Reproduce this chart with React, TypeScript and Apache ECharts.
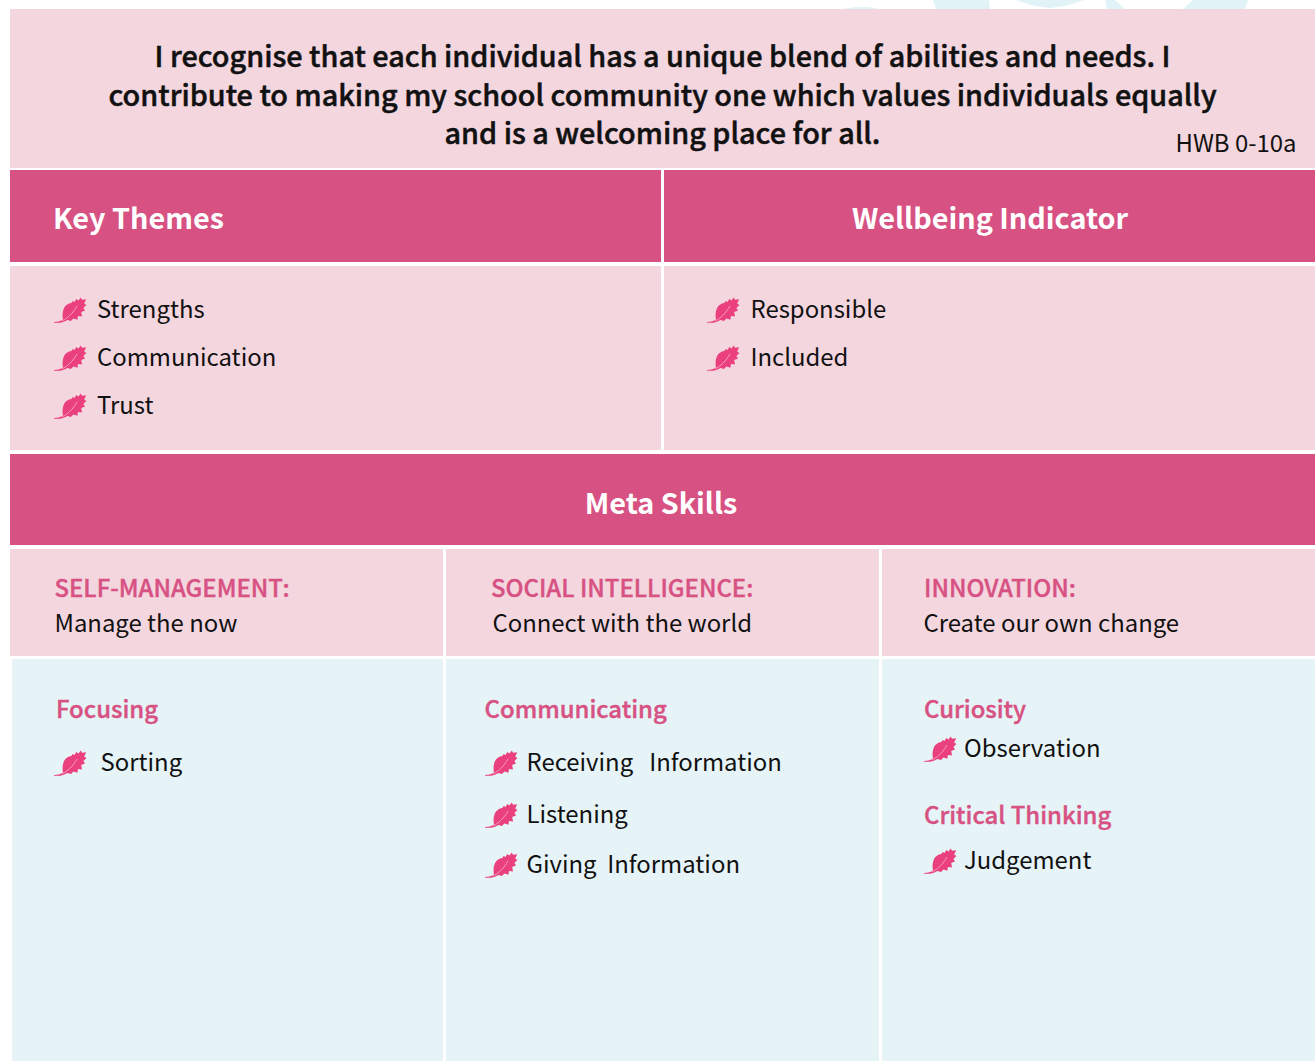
import React, { useEffect, useRef } from "react";
import * as echarts from "echarts";

const FONT = '"Noto Sans CJK SC", "Noto Sans CJK JP", "Noto Sans", sans-serif';
const PINK = "#d75283";
const PALE = "#f4d6df";
const BLUE = "#e6f4f8";
const BLACK = "#111111";

const titleLines = [
  "I recognise that each individual has a unique blend of abilities and needs. I",
  "contribute to making my school community one which values individuals equally",
  "and is a welcoming place for all.",
];
const outcomeCode = "HWB 0-10a";
const headers = ["Key Themes", "Wellbeing Indicator", "Meta Skills"];
const keyThemes = ["Strengths", "Communication", "Trust"];
const indicators = ["Responsible", "Included"];
const metaHeads = ["SELF-MANAGEMENT:", "SOCIAL INTELLIGENCE:", "INNOVATION:"];
const metaSubs = ["Manage the now", "Connect with the world", "Create our own change"];
const focusHead = "Focusing";
const focusItems = ["Sorting"];
const commHead = "Communicating";
const commItems = ["Receiving   Information", "Listening", "Giving  Information"];
const curiosityHead = "Curiosity";
const curiosityItems = ["Observation"];
const criticalHead = "Critical Thinking";
const criticalItems = ["Judgement"];

const LEAF =
  "M0 25 C3 25 6 24.4 9 22.6 C8.2 19 8.4 15 9.8 11.6 C11.4 8.2 14 6.4 17.4 6 L18.6 4 L20.6 5 L22.2 2 L24.4 3.6 L26.8 0.6 L28 2.8 L32.2 2.2 L30.2 6.4 L32.4 8 L29.4 11 L31 13.6 L27.2 15 L28 19.4 L24 19 L23.4 22.8 L19.4 21.4 L17 24 L13.4 23 C11 24.8 7 26.2 0 25.8 Z";

function rect(x: number, y: number, w: number, h: number, fill: string) {
  return { type: "rect", shape: { x, y, width: w, height: h }, style: { fill }, silent: true };
}

function text(
  t: string,
  x: number,
  y: number,
  size: number,
  fill: string,
  weight: number | string = 400,
  align = "left",
  thicken = 0,
) {
  return {
    type: "text",
    x,
    y,
    silent: true,
    style: {
      text: t,
      fill,
      fontFamily: FONT,
      fontSize: size,
      fontWeight: weight,
      align,
      verticalAlign: "middle",
      ...(thicken ? { stroke: fill, lineWidth: thicken } : {}),
    },
  };
}

function leaf(x: number, y: number) {
  return {
    type: "group",
    x,
    y,
    silent: true,
    children: [
      { type: "kauraLeaf", x: 0, y: 0, style: { fill: "#ea417e" } },
      {
        type: "bezierCurve",
        shape: { x1: 8, y1: 24, cpx1: 14, cpy1: 21, cpx2: 19, cpy2: 16, x2: 23, y2: 9 },
        style: { stroke: "#f7a4c2", lineWidth: 0.9, fill: "none" },
      },
    ],
  };
}

function itemList(items: string[], leafX: number, textX: number, ys: number[], size = 23.9) {
  const out: any[] = [];
  items.forEach((t, i) => {
    out.push(leaf(leafX, ys[i] - 13));
    out.push(text(t, textX, ys[i] - 3, size, BLACK));
  });
  return out;
}

export default function App() {
  const ref = useRef<HTMLDivElement>(null);
  useEffect(() => {
    document.body.style.margin = "0";
    echarts.graphic.registerShape("kauraLeaf", echarts.graphic.extendPath(LEAF, {}) as any);
    const chart = echarts.init(ref.current!, undefined, { renderer: "svg" });
    const wm = "#e2f3f7";
    const elements: any[] = [
      { type: "polygon", shape: { points: [[843, 9], [855, 7], [868, 7], [880, 9]] }, style: { fill: wm } },
      { type: "polygon", shape: { points: [[933, 0], [989, 0], [990, 9], [936, 9]] }, style: { fill: wm } },
      { type: "polygon", shape: { points: [[1015, 0], [1084, 0], [1065, 6], [1050, 8], [1035, 6]] }, style: { fill: wm } },
      { type: "polygon", shape: { points: [[1105, 0], [1115, 0], [1125, 9], [1107, 9]] }, style: { fill: wm } },
      { type: "polygon", shape: { points: [[1193, 0], [1248, 0], [1245, 9], [1183, 9]] }, style: { fill: wm } },

      rect(10, 9, 1305, 159, PALE),
      rect(10, 170, 651, 92, PINK),
      rect(664, 170, 651, 92, PINK),
      rect(10, 266, 651, 184, PALE),
      rect(664, 266, 651, 184, PALE),
      rect(10, 454, 1305, 91, PINK),
      rect(10, 549, 433, 107, PALE),
      rect(446, 549, 433, 107, PALE),
      rect(882, 549, 433, 107, PALE),
      rect(12, 659, 431, 402, BLUE),
      rect(446, 659, 433, 402, BLUE),
      rect(882, 659, 433, 402, BLUE),

      text(titleLines[0], 662.5, 54.5, 28.8, BLACK, 500, "center", 0.5),
      text(titleLines[1], 662.5, 93.5, 28.8, BLACK, 500, "center", 0.5),
      text(titleLines[2], 662.5, 131.5, 28.8, BLACK, 500, "center", 0.5),
      text(outcomeCode, 1175.5, 141.5, 23.9, BLACK),

      text(headers[0], 53, 216.5, 28.8, "#ffffff", 700),
      text(headers[1], 990, 216.5, 28.8, "#ffffff", 700, "center"),
      text(headers[2], 661, 501.5, 28.8, "#ffffff", 700, "center"),

      ...itemList(keyThemes, 54, 97, [310, 358, 406]),
      ...itemList(indicators, 707, 750.5, [310, 358]),

      text(metaHeads[0], 54.5, 586.5, 23.9, PINK, 500, "left", 0.4),
      text(metaSubs[0], 54.5, 621.5, 23.9, BLACK),
      text(metaHeads[1], 491, 586.5, 23.9, PINK, 500, "left", 0.4),
      text(metaSubs[1], 492.5, 621.5, 23.9, BLACK),
      text(metaHeads[2], 924, 586.5, 23.9, PINK, 500, "left", 0.4),
      text(metaSubs[2], 923.5, 621.5, 23.9, BLACK),

      text(focusHead, 56, 707.5, 23.9, PINK, 500, "left", 0.4),
      ...itemList(focusItems, 54, 100.5, [763]),
      text(commHead, 484.5, 707.5, 23.9, PINK, 500, "left", 0.4),
      ...itemList(commItems, 485, 526.5, [763, 815, 865]),
      text(curiosityHead, 924, 707.5, 23.9, PINK, 500, "left", 0.4),
      ...itemList(curiosityItems, 924, 964, [749]),
      text(criticalHead, 924, 813.5, 23.9, PINK, 500, "left", 0.4),
      ...itemList(criticalItems, 924, 964, [861]),
    ];
    chart.setOption({ animation: false, graphic: { elements } });
    return () => chart.dispose();
  }, []);
  return (
    <div
      ref={ref}
      style={{ position: "absolute", left: 0, top: 0, width: 1315, height: 1062, background: "#fff" }}
    />
  );
}
